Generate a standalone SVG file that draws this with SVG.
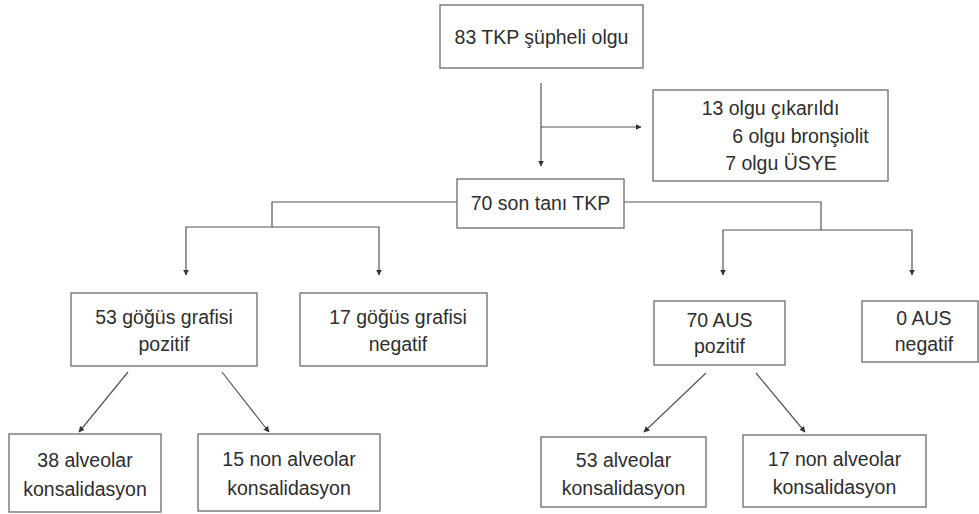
<svg xmlns="http://www.w3.org/2000/svg" width="979" height="514" viewBox="0 0 979 514">
<style>
.box{fill:#fff;stroke:#6b6b6b;stroke-width:1.3}
.t{font-family:"Liberation Sans",Arial,sans-serif;font-size:19.5px;fill:#2e2e2e;text-anchor:middle;dominant-baseline:central}
.c{fill:none;stroke:#555;stroke-width:1.2}
</style>
<defs>
<marker id="ah" viewBox="0 0 10 10" refX="9" refY="5" markerWidth="6" markerHeight="6" orient="auto" markerUnits="userSpaceOnUse">
<path d="M0,0 L10,5 L0,10 z" fill="#333"/>
</marker>
</defs>
<rect width="979" height="514" fill="#fff"/>
<g id="connectors">
<path class="c" d="M541,83 V166" marker-end="url(#ah)"/>
<path class="c" d="M541,127 H641" marker-end="url(#ah)"/>
<path class="c" d="M457,202 H272 V227 H186 V275" marker-end="url(#ah)"/>
<path class="c" d="M272,227 H379 V275" marker-end="url(#ah)"/>
<path class="c" d="M624,202 H821 V230 H723 V275" marker-end="url(#ah)"/>
<path class="c" d="M821,230 H912 V275" marker-end="url(#ah)"/>
<path class="c" d="M128,372 L79,432" marker-end="url(#ah)"/>
<path class="c" d="M222,372 L269,432" marker-end="url(#ah)"/>
<path class="c" d="M706,373 L644,432" marker-end="url(#ah)"/>
<path class="c" d="M756,373 L805,432" marker-end="url(#ah)"/>
</g>
<g id="n1"><rect class="box" x="440" y="5" width="203" height="63"/><text class="t" x="541.5" y="37">83 TKP şüpheli olgu</text></g>
<g id="n2"><rect class="box" x="653" y="90" width="235" height="91"/>
<text class="t" x="770.5" y="108">13 olgu çıkarıldı</text>
<text class="t" x="800.5" y="136">6 olgu bronşiolit</text>
<text class="t" x="781" y="163">7 olgu ÜSYE</text></g>
<g id="n3"><rect class="box" x="457" y="179" width="167" height="49"/><text class="t" x="540.5" y="203">70 son tanı TKP</text></g>
<g id="n4"><rect class="box" x="71" y="293" width="186" height="73"/><text class="t" x="164" y="317">53 göğüs grafisi</text><text class="t" x="164" y="344">pozitif</text></g>
<g id="n5"><rect class="box" x="300" y="293" width="187" height="73"/><text class="t" x="398" y="317">17 göğüs grafisi</text><text class="t" x="398" y="344">negatif</text></g>
<g id="n6"><rect class="box" x="654" y="301" width="131" height="64"/><text class="t" x="719.5" y="320">70 AUS</text><text class="t" x="719.5" y="346">pozitif</text></g>
<g id="n7"><rect class="box" x="862" y="301" width="116" height="61"/><text class="t" x="924" y="318">0 AUS</text><text class="t" x="924" y="344">negatif</text></g>
<g id="n8"><rect class="box" x="9" y="434" width="152" height="78"/><text class="t" x="85" y="460">38 alveolar</text><text class="t" x="85" y="489">konsalidasyon</text></g>
<g id="n9"><rect class="box" x="198" y="434" width="182" height="77"/><text class="t" x="289" y="459">15 non alveolar</text><text class="t" x="289" y="488">konsalidasyon</text></g>
<g id="n10"><rect class="box" x="541" y="437" width="165" height="70"/><text class="t" x="623.5" y="460">53 alveolar</text><text class="t" x="623.5" y="488">konsalidasyon</text></g>
<g id="n11"><rect class="box" x="743" y="435" width="183" height="72"/><text class="t" x="834.5" y="459">17 non alveolar</text><text class="t" x="834.5" y="487">konsalidasyon</text></g>
</svg>
